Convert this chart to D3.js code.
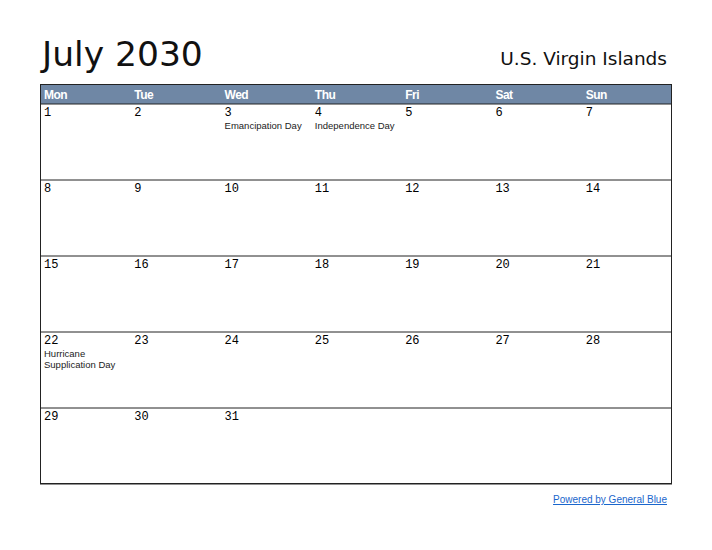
<!DOCTYPE html>
<html>
<head>
<meta charset="utf-8" />
<script src="https://d3js.org/d3.v7.min.js"></script>
<style>
body { margin: 0; background: white; }
</style>
</head>
<body>
<svg></svg>
<script>
const title = 'July 2030'
const region = 'U.S. Virgin Islands'
const weekdays = ['Mon', 'Tue', 'Wed', 'Thu', 'Fri', 'Sat', 'Sun']
const firstOffset = 0
const daysInMonth = 31
const holidays = [
    { day: 3, lines: ['Emancipation Day'] },
    { day: 4, lines: ['Independence Day'] },
    { day: 22, lines: ['Hurricane', 'Supplication Day'] },
]

const width = 712
const height = 550
const svg = d3.select('svg').attr('width', width).attr('height', height)

const left = 40, right = 672, headTop = 84, headBottom = 104, bottom = 484
const weeks = 5
const x = d3.scaleBand().domain(d3.range(7)).range([left, right])
const y = d3.scaleBand().domain(d3.range(weeks)).range([headBottom, bottom])

svg.append('text').attr('x', 42).attr('y', 66)
    .style('font-family', 'DejaVu Sans').style('font-size', '34.5px').style('fill', '#111').text(title)
svg.append('text').attr('x', 667).attr('y', 65).attr('text-anchor', 'end')
    .style('font-family', 'DejaVu Sans').style('font-size', '18.5px').style('fill', '#111').text(region)

svg.append('rect').attr('x', left).attr('y', headTop)
    .attr('width', right - left).attr('height', headBottom - headTop)
    .style('fill', '#6f87a5')

svg.selectAll('.wd').data(weekdays).enter().append('text')
    .attr('x', (d, i) => x(i) + 4).attr('y', 99)
    .style('font-family', 'Liberation Sans').style('font-weight', 'bold')
    .style('font-size', '12px').style('fill', 'white').style('letter-spacing', '-0.5px')
    .text((d) => d)

d3.range(weeks + 1).forEach((r) => {
    const yy = r === weeks ? bottom : y(r)
    svg.append('line').attr('x1', left).attr('x2', right).attr('y1', yy).attr('y2', yy)
        .style('stroke', '#222').style('stroke-width', 1)
})
svg.append('rect').attr('x', left + 0.5).attr('y', headTop + 0.5)
    .attr('width', right - left - 1).attr('height', bottom - headTop - 1)
    .style('fill', 'none').style('stroke', '#222')

const days = d3.range(1, daysInMonth + 1).map((d) => {
    const idx = d - 1 + firstOffset
    return { day: d, col: idx % 7, row: Math.floor(idx / 7) }
})

svg.selectAll('.day').data(days).enter().append('text')
    .attr('x', (d) => x(d.col) + 4).attr('y', (d) => y(d.row) + 12)
    .style('font-family', 'Liberation Mono').style('font-size', '12px')
    .text((d) => d.day)

holidays.forEach((h) => {
    const d = days[h.day - 1]
    h.lines.forEach((line, i) => {
        svg.append('text').attr('x', x(d.col) + 4).attr('y', y(d.row) + 25 + i * 11)
            .style('font-family', 'Liberation Sans').style('font-size', '9.5px')
            .style('fill', '#222').text(line)
    })
})

svg.append('text').attr('x', 667).attr('y', 503).attr('text-anchor', 'end')
    .style('font-family', 'Liberation Sans').style('font-size', '10px')
    .style('fill', '#1a66cc').style('text-decoration', 'underline')
    .text('Powered by General Blue')
</script>
</body>
</html>
